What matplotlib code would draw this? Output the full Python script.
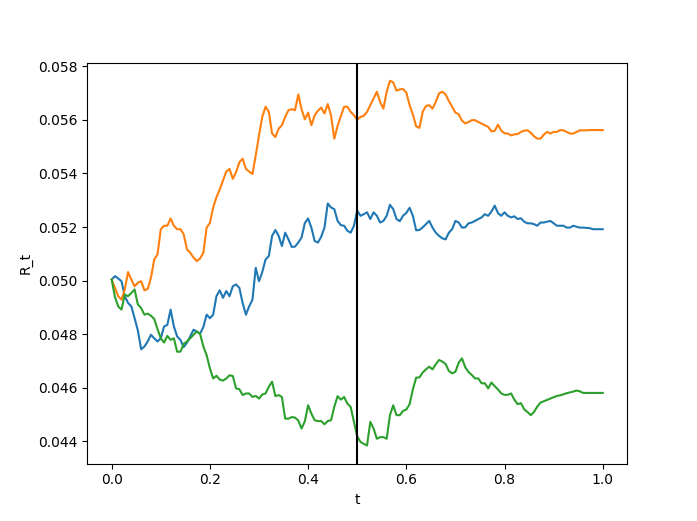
import numpy as np
import matplotlib
matplotlib.use('Agg')
import matplotlib.pyplot as plt

# time grid
t = np.linspace(0, 1, 151)

# short rate paths, in units of 1e-5
path_blue = [5004,5017,5008,4998,4942,4917,4904,4860,4814,4744,4754,4773,4798,4785,4773,4785,4829,4835,4892,4829,4792,4779,4752,4769,4792,4817,
             4810,4802,4827,4873,4860,4873,4942,4964,4936,4961,4942,4979,4986,4973,4917,4873,4904,4929,5048,4998,5032,5079,5092,5167,5189,5167,
             5129,5179,5154,5126,5127,5142,5161,5215,5232,5198,5148,5142,5164,5198,5288,5273,5267,5223,5207,5205,5186,5179,5205,5261,5242,5248,
             5255,5230,5255,5242,5217,5223,5242,5283,5267,5230,5222,5242,5253,5272,5242,5188,5189,5199,5211,5223,5198,5179,5167,5158,5154,5179,
             5192,5223,5217,5198,5199,5214,5217,5223,5230,5236,5248,5242,5258,5280,5252,5242,5255,5242,5236,5240,5230,5233,5220,5214,5214,5211,
             5205,5217,5217,5220,5223,5214,5205,5205,5205,5198,5198,5205,5201,5198,5198,5197,5196,5192,5192,5192,5192]
path_orange = [5004,4973,4942,4929,4967,5032,5004,4979,4992,4998,4964,4969,5011,5079,5098,5192,5205,5205,5232,5205,5192,5192,5173,5117,5104,5086,
               5073,5083,5104,5198,5215,5273,5311,5340,5373,5407,5417,5380,5405,5442,5455,5417,5407,5398,5467,5542,5611,5649,5630,5549,5536,5567,
               5580,5611,5636,5640,5636,5695,5640,5602,5627,5580,5617,5634,5646,5624,5659,5617,5530,5577,5614,5649,5649,5630,5617,5601,5611,5615,
               5630,5655,5680,5705,5667,5642,5705,5746,5740,5709,5714,5715,5702,5655,5620,5576,5570,5630,5652,5655,5642,5667,5699,5705,5695,5670,
               5649,5627,5621,5597,5587,5592,5599,5599,5592,5586,5580,5574,5557,5559,5582,5560,5550,5549,5542,5546,5547,5555,5560,5561,5552,5539,
               5530,5530,5545,5555,5549,5555,5555,5562,5561,5555,5549,5549,5555,5561,5561,5561,5562,5562,5562,5562,5562]
path_green = [5004,4939,4904,4892,4948,4942,4954,4967,4911,4898,4873,4877,4869,4857,4819,4785,4769,4794,4779,4785,4735,4735,4764,4773,4785,4798,
              4810,4802,4754,4722,4673,4635,4645,4631,4627,4635,4647,4644,4598,4595,4573,4579,4579,4566,4570,4560,4575,4579,4604,4623,4569,4573,
              4566,4485,4485,4491,4489,4478,4448,4475,4535,4504,4479,4476,4476,4464,4476,4479,4529,4569,4556,4566,4541,4529,4473,4419,4398,4391,
              4385,4473,4448,4410,4416,4416,4410,4498,4535,4498,4498,4514,4519,4539,4594,4638,4639,4657,4669,4679,4669,4688,4704,4698,4689,4663,
              4654,4660,4694,4710,4677,4659,4648,4635,4635,4617,4617,4598,4620,4606,4594,4579,4574,4574,4579,4556,4539,4543,4520,4510,4498,4510,
              4530,4545,4550,4555,4560,4565,4570,4572,4576,4580,4583,4586,4590,4587,4581,4581,4581,4581,4581,4581,4581]

t_switch = 0.5

fig = plt.figure(figsize=(6.97, 5.21), dpi=100)
for p in [path_blue, path_orange, path_green]:
    plt.plot(t, np.array(p) * 1e-5)
plt.axvline(t_switch, color='k')
plt.xlabel('t')
plt.ylabel('R_t')
plt.savefig('out.png')
